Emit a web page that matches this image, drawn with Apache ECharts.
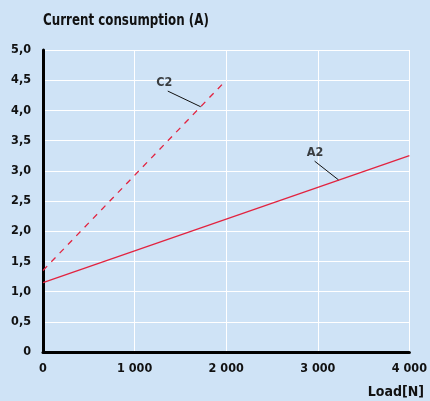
<!DOCTYPE html>
<html><head><meta charset="utf-8">
<script src="https://cdn.jsdelivr.net/npm/echarts@6/dist/echarts.min.js"></script>
<style>html,body{margin:0;padding:0;background:#cfe3f6;}#c{width:430px;height:401px;}</style>
</head><body><div id="c"></div>
<script>
const xTicks = [0, 1000, 2000, 3000, 4000];
const yTicks = [0, 0.5, 1, 1.5, 2, 2.5, 3, 3.5, 4, 4.5, 5];
const loadA2 = [0, 4000];
const currentA2 = [1.15, 3.25];
const loadC2 = [0, 2000];
const currentC2 = [1.35, 4.5];
const leaderC2 = [[1362, 4.32], [1722, 4.06]];
const leaderA2 = [[2965, 3.16], [3226, 2.85]];
const labelC2 = [1324, 4.46];
const labelA2 = [2970, 3.295];

const FONT = 'DejaVu Sans Condensed';
const chart = echarts.init(document.getElementById('c'));
const fmtY = v => v === 0 ? '0' : v.toFixed(1).replace('.', ',');
const fmtX = v => v === 0 ? '0' : String(v).replace(/\B(?=(\d{3})+(?!\d))/g, ' ');
chart.setOption({
  backgroundColor: '#cfe3f6',
  animation: false,
  textStyle: {fontFamily: FONT},
  graphic: [
    {type: 'text', left: 43, top: 14, scaleX: 0.88, originX: 0,
      style: {text: 'Current consumption (A)', font: 'bold 15px "' + FONT + '"', fill: '#111'}},
    {type: 'text', right: 6, top: 385,
      style: {text: 'Load[N]', font: 'bold 14px "' + FONT + '"', fill: '#111'}}],
  grid: {left: 43, right: 20, top: 50, bottom: 49},
  xAxis: {type: 'value', min: 0, max: 4000, interval: 1000,
    axisLine: {show: true, onZero: false, lineStyle: {color: '#000', width: 3}},
    axisTick: {show: false},
    splitLine: {show: true, lineStyle: {color: '#ffffff', width: 1}},
    axisLabel: {formatter: fmtX, color: '#111', fontWeight: 'bold', fontSize: 12.5, fontFamily: FONT, margin: 10}},
  yAxis: {type: 'value', min: 0, max: 5, interval: 0.5,
    axisLine: {show: true, lineStyle: {color: '#000', width: 3}},
    axisTick: {show: false},
    splitLine: {show: true, lineStyle: {color: '#ffffff', width: 1}},
    axisLabel: {formatter: fmtY, color: '#111', fontWeight: 'bold', fontSize: 12.5, fontFamily: FONT, margin: 12}},
  series: [
    {type: 'line', name: 'A2', data: loadA2.map((x, i) => [x, currentA2[i]]), symbol: 'none',
      lineStyle: {color: '#e2233f', width: 1.3}, z: 3},
    {type: 'line', name: 'C2', data: loadC2.map((x, i) => [x, currentC2[i]]), symbol: 'none',
      lineStyle: {color: '#e2233f', width: 1.3, type: [6, 6]}, z: 3},
    {type: 'line', data: leaderC2, symbol: 'none', lineStyle: {color: '#111', width: 1}, z: 4},
    {type: 'line', data: leaderA2, symbol: 'none', lineStyle: {color: '#111', width: 1}, z: 4},
    {type: 'scatter', data: [labelC2, labelA2], symbolSize: 0, z: 5,
      label: {show: true, position: 'inside', formatter: p => p.dataIndex === 0 ? 'C2' : 'A2',
        color: '#111', fontWeight: 'bold', fontSize: 12.5, fontFamily: FONT}}
  ]
});
</script></body></html>
